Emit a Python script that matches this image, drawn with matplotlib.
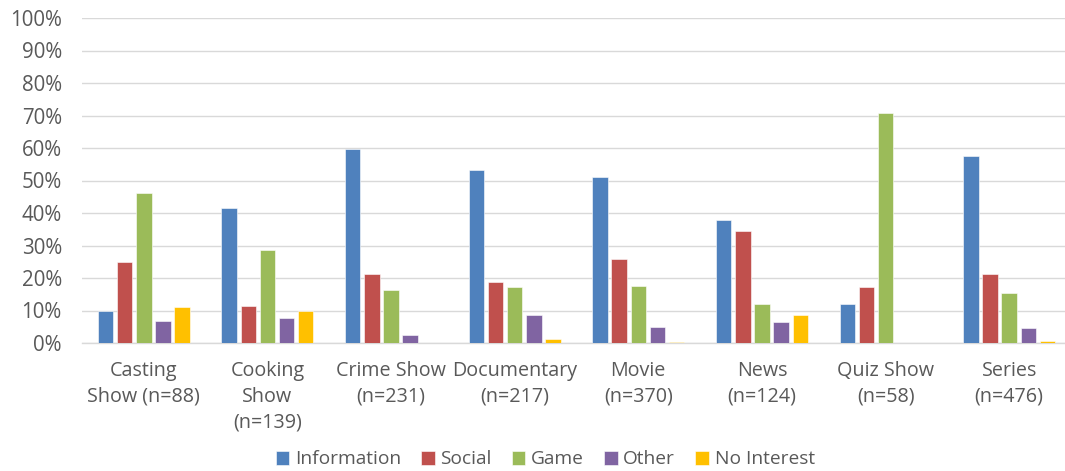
import matplotlib
matplotlib.use("Agg")
import matplotlib.pyplot as plt
import numpy as np
from matplotlib.ticker import FuncFormatter, MultipleLocator

plt.rcParams['font.family'] = ['Open Sans', 'DejaVu Sans']

categories = ["Casting\nShow (n=88)", "Cooking\nShow\n(n=139)", "Crime Show\n(n=231)",
              "Documentary\n(n=217)", "Movie\n(n=370)", "News\n(n=124)",
              "Quiz Show\n(n=58)", "Series\n(n=476)"]

information = [10.0, 41.5, 59.6, 53.3, 51.0, 37.8, 11.9, 57.6]
social      = [24.8, 11.3, 21.2, 18.7, 25.8, 34.5, 17.1, 21.2]
game        = [46.3, 28.6, 16.3, 17.3, 17.5, 12.0, 70.7, 15.4]
other       = [6.7, 7.7, 2.4, 8.5, 5.0, 6.4, 0.0, 4.6]
no_interest = [11.1, 9.9, 0.0, 1.1, 0.2, 8.7, 0.0, 0.5]

series_names = ["Information", "Social", "Game", "Other", "No Interest"]
series_values = [information, social, game, other, no_interest]
colors = ["#4F81BD", "#C0504D", "#9BBB59", "#8064A2", "#FFC000"]

W, H = 1065, 471
fig = plt.figure(figsize=(W / 100, H / 100), dpi=100)
ax = fig.add_axes([82 / W, (H - 343) / H, (1071 - 82) / W, (343 - 18) / H])

x = np.arange(len(categories))
step = 0.155
width = 0.125
for i, (name, vals, c) in enumerate(zip(series_names, series_values, colors)):
    ax.bar(x + (i - 2) * step, vals, width=width, color=c, label=name,
           edgecolor="white", linewidth=0.4, zorder=3)

ax.set_xlim(-0.5, len(categories) - 0.5)
ax.set_ylim(0, 100)
ax.yaxis.set_major_locator(MultipleLocator(10))
ax.yaxis.set_major_formatter(FuncFormatter(lambda v, p: f"{int(v)}%"))
ax.grid(axis="y", color="#D9D9D9", linewidth=1.0, zorder=0)
ax.set_axisbelow(True)
for s in ["top", "right", "left"]:
    ax.spines[s].set_visible(False)
ax.spines["bottom"].set_color("#D9D9D9")
ax.spines["bottom"].set_linewidth(1.0)

ax.set_xticks(x)
ax.set_xticklabels(categories, linespacing=1.37)
ax.tick_params(axis="both", length=0, colors="#595959")
ax.tick_params(axis="x", pad=13, labelsize=14.2)
ax.tick_params(axis="y", pad=14.5, labelsize=14.8)

fig.legend(loc="center", bbox_to_anchor=(0.512, (H - 459.5) / H), ncol=5, frameon=False,
           fontsize=13.8, handlelength=0.7, handleheight=0.7, handletextpad=0.3,
           columnspacing=1.05, labelcolor="#595959")

fig.savefig("out.png", dpi=100)
